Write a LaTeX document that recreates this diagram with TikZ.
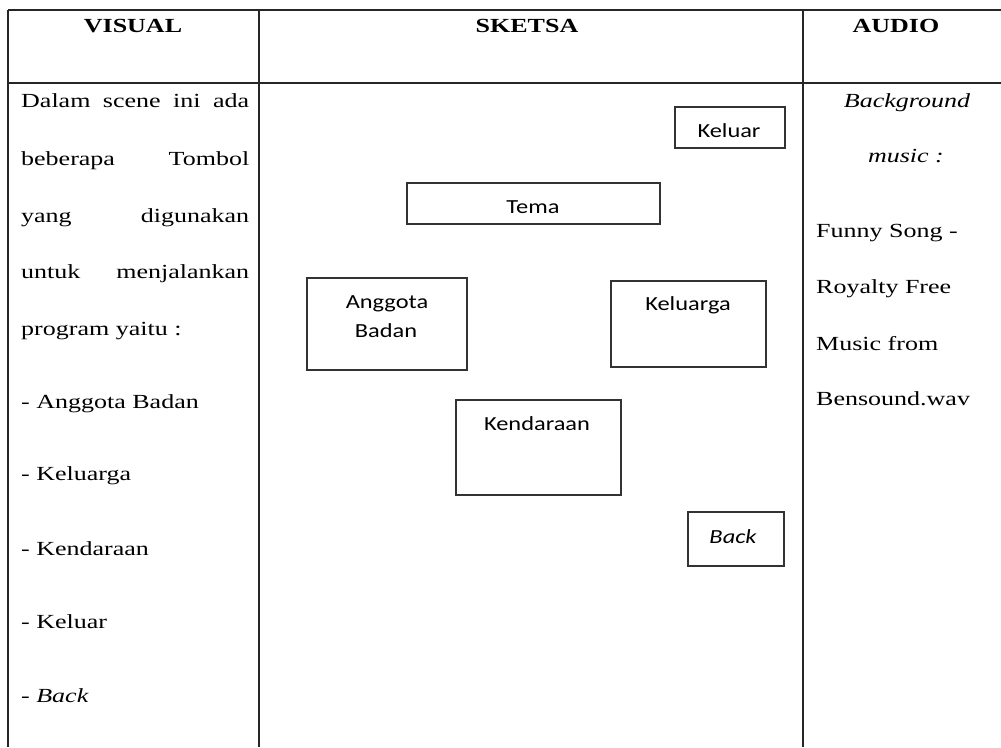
\documentclass[tikz,border=0pt]{standalone}
\usepackage{fontspec}
\setmainfont[FakeStretch=1.3]{Liberation Serif}
\newfontfamily\sketchfont[FakeStretch=1.22]{Carlito}

\tikzset{
  garis/.style={line width=1.5pt,color=black!85},
  tombol/.style={draw=black!80,line width=1.3pt,inner sep=0pt,outer sep=0pt},
  teks/.style={anchor=base,inner sep=0pt,font=\fontsize{20}{24}\selectfont},
  kiri/.style={teks,anchor=base west},
  label/.style={teks,font=\sketchfont\fontsize{20}{24}\selectfont}
}

\begin{document}
\begin{tikzpicture}[x=1pt,y=-1pt]
  \useasboundingbox (0,0) rectangle (1001,747);

  \draw[garis] (8,10) -- (1001,10);
  \draw[garis] (8,83) -- (1001,83);
  \draw[garis] (8,10) -- (8,747);
  \draw[garis] (259,10) -- (259,747);
  \draw[garis] (803,10) -- (803,747);

  \node[teks,font=\bfseries\fontsize{20}{24}\selectfont] (hvisual) at (133,32) {VISUAL};
  \node[teks,font=\bfseries\fontsize{20}{24}\selectfont] (hsketsa) at (527,32) {SKETSA};
  \node[teks,font=\bfseries\fontsize{20}{24}\selectfont] (haudio) at (896,32) {AUDIO};

  \node[kiri] (v1) at (21,107) {\makebox[228pt][s]{Dalam scene ini ada}};
  \node[kiri] (v2) at (21,165) {\makebox[228pt][s]{beberapa Tombol}};
  \node[kiri] (v3) at (21,222) {\makebox[228pt][s]{yang digunakan}};
  \node[kiri] (v4) at (21,278) {\makebox[228pt][s]{untuk menjalankan}};
  \node[kiri] (v5) at (21,335) {program yaitu :};
  \node[kiri] (v6) at (21,408) {- Anggota Badan};
  \node[kiri] (v7) at (21,480) {- Keluarga};
  \node[kiri] (v8) at (21,555) {- Kendaraan};
  \node[kiri] (v9) at (21,628) {- Keluar};
  \node[kiri] (v10) at (21,702) {- \textit{Back}};

  \node[tombol,minimum width=110,minimum height=41] (keluar) at (730,127.5) {};
  \node[tombol,minimum width=253,minimum height=41] (tema) at (533.5,203.5) {};
  \node[tombol,minimum width=160,minimum height=92] (anggota) at (387,324) {};
  \node[tombol,minimum width=155,minimum height=86] (keluarga) at (688.5,324) {};
  \node[tombol,minimum width=165,minimum height=95] (kendaraan) at (538.5,447.5) {};
  \node[tombol,minimum width=96,minimum height=54] (back) at (736,539) {};

  \node[label] (lkeluar) at (729,137) {Keluar};
  \node[label] (ltema) at (533,213) {Tema};
  \node[label] (langgota) at (387,308) {Anggota};
  \node[label] (lbadan) at (386,337) {Badan};
  \node[label] (lkeluarga) at (688,310) {Keluarga};
  \node[label] (lkendaraan) at (537,430) {Kendaraan};
  \node[label] (lback) at (733,543) {\itshape Back};

  \node[teks] (a1) at (907,107) {\textit{Background}};
  \node[teks] (a2) at (906,162) {\textit{music :}};
  \node[kiri] (a3) at (816,237) {Funny Song -};
  \node[kiri] (a4) at (816,293) {Royalty Free};
  \node[kiri] (a5) at (816,350) {Music from};
  \node[kiri] (a6) at (816,405) {Bensound.wav};

\end{tikzpicture}
\end{document}
